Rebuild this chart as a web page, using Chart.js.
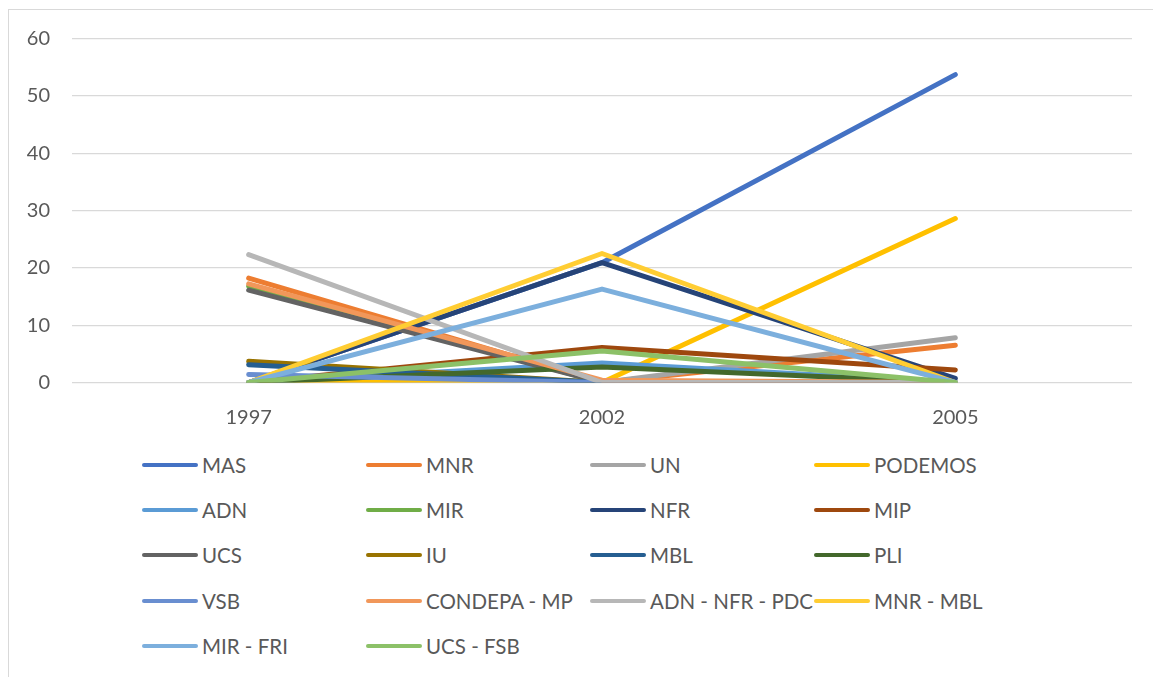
<!DOCTYPE html>
<html>
<head>
<meta charset="utf-8">
<script src="https://cdn.jsdelivr.net/npm/chart.js@4/dist/chart.umd.min.js"></script>
<style>
  html, body { margin: 0; padding: 0; background: #fff; }
  body { width: 1153px; height: 677px; position: relative; overflow: hidden; font-family: Lato, "Open Sans", sans-serif; }
  #frame { position: absolute; left: 8px; top: 9px; width: 1200px; height: 700px; border-left: 1px solid #d9d9d9; border-top: 1px solid #d9d9d9; }
  #wrap { position: absolute; left: 0; top: 0; width: 1153px; height: 440px; }
  #legend { position: absolute; left: 142px; top: 442px; display: grid; grid-template-columns: repeat(4, 224px); grid-auto-rows: 45.3px; }
  .item { display: flex; align-items: center; height: 45.3px; color: #595959; font-size: 20.5px; white-space: nowrap; }
  .swatch { width: 56px; height: 4px; border-radius: 2px; margin-right: 4px; }
</style>
</head>
<body>
<div id="frame"></div>
<div id="wrap"><canvas id="chart"></canvas></div>
<div id="legend"></div>
<script>
const years = ['1997', '2002', '2005'];
const yTicks = [0, 10, 20, 30, 40, 50, 60];

// vote share (%) per election
const mas = [0, 20.9, 53.7];
const mnr = [18.2, 0, 6.5];
const un = [0, 0, 7.8];
const podemos = [0, 0, 28.6];
const adn = [0, 3.4, 0];
const mir = [16.8, 0, 0];
const nfr = [0, 20.9, 0.7];
const mip = [0, 6.1, 2.2];
const ucs = [16.1, 0, 0];
const iu = [3.7, 0, 0];
const mbl = [3.1, 0, 0];
const pli = [0, 2.7, 0];
const vsb = [1.4, 0, 0];
const condepaMp = [17.2, 0.4, 0];
const adnNfrPdc = [22.3, 0, 0];
const mnrMbl = [0, 22.5, 0];
const mirFri = [0, 16.3, 0];
const ucsFsb = [0, 5.5, 0];

const seriesNames = ['MAS', 'MNR', 'UN', 'PODEMOS', 'ADN', 'MIR', 'NFR', 'MIP', 'UCS', 'IU', 'MBL', 'PLI',
  'VSB', 'CONDEPA - MP', 'ADN - NFR - PDC', 'MNR - MBL', 'MIR - FRI', 'UCS - FSB'];
const seriesValues = [mas, mnr, un, podemos, adn, mir, nfr, mip, ucs, iu, mbl, pli,
  vsb, condepaMp, adnNfrPdc, mnrMbl, mirFri, ucsFsb];
const seriesColors = ['#4472C4', '#ED7D31', '#A5A5A5', '#FFC000', '#5B9BD5', '#70AD47', '#264478', '#9E480E',
  '#636363', '#997300', '#255E91', '#43682B', '#698ED0', '#F1975A', '#B7B7B7', '#FFCD33', '#7CAFDD', '#8CC168'];

const datasets = seriesNames.map((name, i) => ({
  label: name,
  data: seriesValues[i],
  borderColor: seriesColors[i],
  backgroundColor: seriesColors[i],
  borderWidth: 5,
  borderCapStyle: 'round',
  borderJoinStyle: 'round',
  pointRadius: 0,
  tension: 0,
  // later series on top, like the spreadsheet
  order: seriesNames.length - i
}));

const font = { family: 'Lato, "Open Sans", sans-serif', size: 20 };

const chart = new Chart(document.getElementById('chart'), {
  type: 'line',
  data: { labels: years, datasets: datasets },
  options: {
    responsive: true,
    maintainAspectRatio: false,
    animation: false,
    layout: { padding: { left: 0, right: 21, top: 38.5, bottom: 0 } },
    plugins: {
      legend: { display: false },
      tooltip: { enabled: false }
    },
    scales: {
      x: {
        offset: true,
        grid: { display: false },
        border: { display: false },
        ticks: { color: '#595959', font: font, padding: 15 },
        afterFit: scale => { scale.height = 57.5; }
      },
      y: {
        min: 0,
        max: 60,
        afterBuildTicks: scale => { scale.ticks = yTicks.map(v => ({ value: v })); },
        grid: { color: '#d9d9d9', lineWidth: 1.3, drawTicks: false },
        border: { display: false },
        ticks: { color: '#595959', font: font, padding: 22 },
        afterFit: scale => { scale.width = 72; }
      }
    }
  }
});

// legend in a fixed 4-column grid
const legendEl = document.getElementById('legend');
chart.data.datasets.forEach(ds => {
  const item = document.createElement('div');
  item.className = 'item';
  const sw = document.createElement('span');
  sw.className = 'swatch';
  sw.style.background = ds.borderColor;
  item.appendChild(sw);
  item.appendChild(document.createTextNode(ds.label));
  legendEl.appendChild(item);
});
</script>
</body>
</html>
